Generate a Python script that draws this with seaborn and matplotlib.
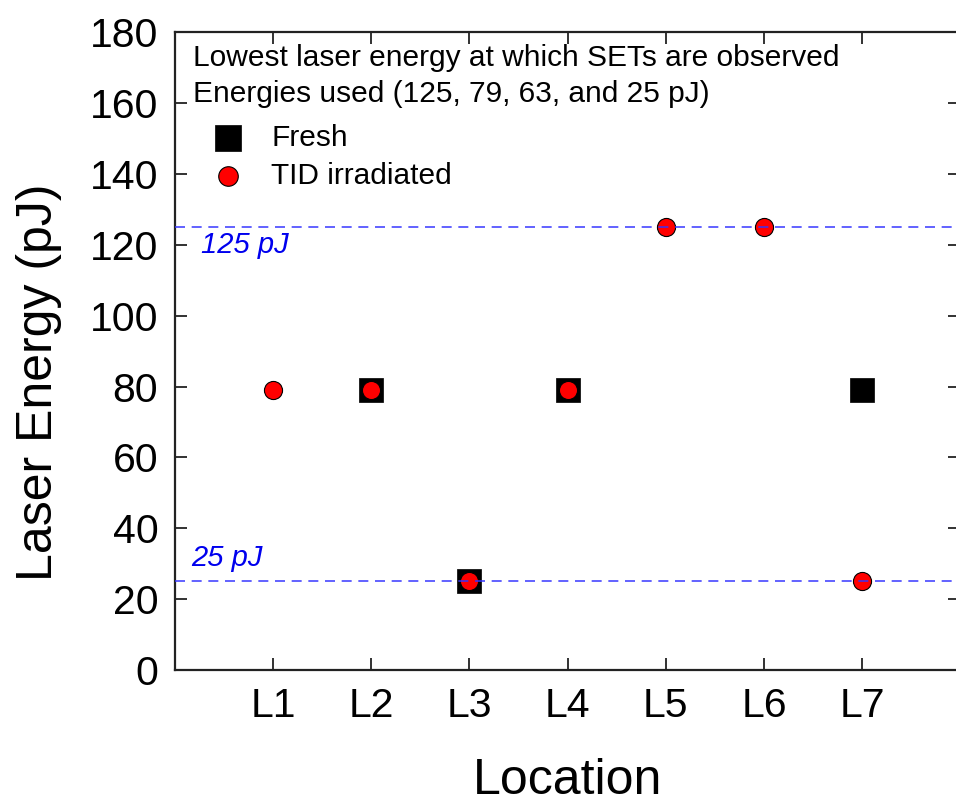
import matplotlib
matplotlib.use("Agg")
import matplotlib.pyplot as plt
import seaborn as sns
import pandas as pd

# Measurement sites and the lowest laser energy (pJ) at which SETs appeared
locations = ["L1", "L2", "L3", "L4", "L5", "L6", "L7"]
fresh_locations = ["L2", "L3", "L4", "L7"]
fresh_energy = [79, 25, 79, 79]
tid_locations = ["L1", "L2", "L3", "L4", "L5", "L6", "L7"]
tid_energy = [79, 79, 25, 79, 125, 125, 25]
reference_levels = [125, 25]
reference_labels = ["125 pJ", "25 pJ"]

sns.set_theme(style="ticks")
plt.rcParams["font.family"] = ["Liberation Sans", "DejaVu Sans"]
plt.rcParams["text.color"] = "black"
plt.rcParams["axes.labelcolor"] = "black"
plt.rcParams["xtick.color"] = "black"
plt.rcParams["ytick.color"] = "black"

pos = {name: i + 1 for i, name in enumerate(locations)}
fresh_df = pd.DataFrame({"x": [pos[n] for n in fresh_locations], "energy": fresh_energy})
tid_df = pd.DataFrame({"x": [pos[n] for n in tid_locations], "energy": tid_energy})

fig = plt.figure(figsize=(9.56, 8.05), dpi=100)
ax = fig.add_axes([0.183, 0.1677, 0.8215, 0.7923])

sns.scatterplot(data=fresh_df, x="x", y="energy", ax=ax, marker="s", s=300,
                color="black", edgecolor="black", linewidth=0.5, label="Fresh", zorder=3)
sns.scatterplot(data=tid_df, x="x", y="energy", ax=ax, marker="o", s=170,
                color="red", edgecolor="black", linewidth=0.8, label="TID irradiated", zorder=4)

for lvl in reference_levels:
    ax.axhline(lvl, color="#3333ff", lw=1.2, ls=(0, (6, 4)), zorder=5, alpha=0.9)

ax.text(0.27, 117.6, reference_labels[0], color="#0000ee", fontsize=21, style="italic")
ax.text(0.17, 29.4, reference_labels[1], color="#0000ee", fontsize=21, style="italic")

ax.text(0.18, 170.6, "Lowest laser energy at which SETs are observed", fontsize=21.5)
ax.text(0.18, 160.2, "Energies used (125, 79, 63, and 25 pJ)", fontsize=21.5)

leg = ax.legend(loc="upper left", bbox_to_anchor=(0.014, 0.875), frameon=False,
                fontsize=21.5, handletextpad=0.45, labelspacing=0.35, borderaxespad=0,
                markerscale=1.08)

ax.set_xlim(0, 8)
ax.set_ylim(0, 180)
ax.set_xticks(range(1, len(locations) + 1))
ax.set_xticklabels(locations)
ax.set_yticks(range(0, 181, 20))

ax.tick_params(axis="both", which="major", direction="in", length=8.5, width=1.3,
               labelsize=29.5, top=True, right=True, color="#222222")
ax.tick_params(axis="x", pad=12)
ax.tick_params(axis="y", pad=12)
for sp in ax.spines.values():
    sp.set_linewidth(1.6)
    sp.set_color("#222222")

ax.set_xlabel("Location", fontsize=36, labelpad=24)
ax.set_ylabel("Laser Energy (pJ)", fontsize=36, labelpad=20)
ax.yaxis.label.set_y(0.451)

fig.savefig("out.png", dpi=100)
